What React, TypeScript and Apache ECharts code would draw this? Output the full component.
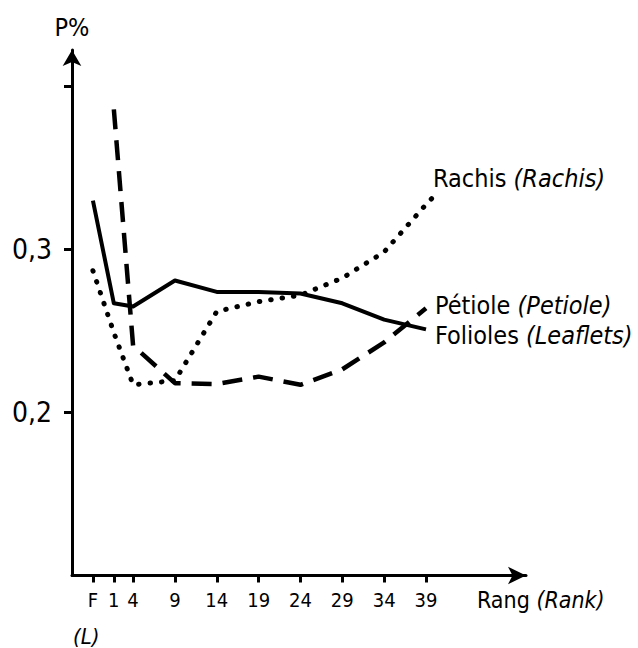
import React, { useEffect, useRef } from "react";
import * as echarts from "echarts";

// Rank tick labels and their plotting positions on the rank axis
const rankLabels = ["F", "1", "4", "9", "14", "19", "24", "29", "34", "39"];
const rankPositions = [-0.8, 1.7, 4, 9, 14, 19, 24, 29, 34, 39];

// P% values per rank
const leaflets = [0.33, 0.267, 0.265, 0.281, 0.274, 0.274, 0.273, 0.267, 0.257, 0.251];
const petiole = [null, 0.386, 0.241, 0.218, 0.2175, 0.222, 0.217, 0.2265, 0.243, 0.264];
const rachis = [0.287, 0.249, 0.217, 0.2196, 0.262, 0.268, 0.272, 0.2825, 0.2985, 0.3276];
const rachisTailRank = 40;
const rachisTailValue = 0.333;

const yTickValues = [0.2, 0.3, 0.4];
const yLabelValues = [0.2, 0.3];

const FONT = "'Liberation Sans Narrow', 'Arial Narrow', 'DejaVu Sans Condensed', 'Roboto Condensed', 'Liberation Sans', sans-serif";

export default function App() {
  const ref = useRef<HTMLDivElement>(null);
  useEffect(() => {
    if (!ref.current) return;
    const chart = echarts.init(ref.current, null, { renderer: "svg" });

    const pairs = (vals: (number | null)[]) =>
      rankPositions
        .map((x, i) => [x, vals[i]])
        .filter((p) => p[1] !== null && p[1] !== undefined);

    const rachisData = pairs(rachis);
    rachisData.push([rachisTailRank, rachisTailValue]);

    const labelText = (text: string, x: number, y: number, size: number) => ({
      type: "text",
      x,
      y,
      silent: true,
      style: {
        text,
        fontFamily: FONT,
        fontSize: size,
        fill: "#000",
        align: "left",
        verticalAlign: "middle",
        rich: {
          i: { fontStyle: "italic", fontFamily: FONT, fontSize: size, fill: "#000" },
        },
      },
    });

    chart.setOption({
      animation: false,
      backgroundColor: "#fff",
      grid: {
        left: 72,
        top: 50,
        width: 454,
        height: 525.5,
        containLabel: false,
        outerBoundsMode: "none",
      },
      xAxis: {
        type: "value",
        min: -3.3,
        max: 50.95,
        splitLine: { show: false },
        axisLine: {
          show: true,
          onZero: false,
          symbol: ["none", "arrow"],
          symbolSize: [13, 18],
          lineStyle: { color: "#000", width: 3 },
        },
        axisTick: {
          show: true,
          customValues: rankPositions,
          length: 7,
          lineStyle: { color: "#000", width: 3 },
        },
        axisLabel: {
          customValues: rankPositions,
          formatter: (v: number) => {
            const i = rankPositions.findIndex((p) => Math.abs(p - v) < 1e-6);
            return i >= 0 ? rankLabels[i] : "";
          },
          margin: 14,
          fontSize: 20,
          fontFamily: FONT,
          color: "#000",
        },
      },
      yAxis: {
        type: "value",
        min: 0.1,
        max: 0.4224,
        name: "P%",
        nameLocation: "end",
        nameGap: 10,
        nameTextStyle: { fontFamily: FONT, fontSize: 25, color: "#000" },
        splitLine: { show: false },
        axisLine: {
          show: true,
          onZero: false,
          symbol: ["none", "arrow"],
          symbolSize: [14, 16],
          lineStyle: { color: "#000", width: 3 },
        },
        axisTick: {
          show: true,
          customValues: yTickValues,
          length: 8,
          lineStyle: { color: "#000", width: 3 },
        },
        axisLabel: {
          customValues: yLabelValues,
          formatter: (v: number) => v.toFixed(1).replace(".", ","),
          margin: 20,
          fontSize: 28,
          fontFamily: FONT,
          color: "#000",
        },
      },
      series: [
        {
          name: "Folioles",
          type: "line",
          data: pairs(leaflets),
          symbol: "none",
          silent: true,
          lineStyle: { color: "#000", width: 4, type: "solid", join: "round" },
        },
        {
          name: "Pétiole",
          type: "line",
          data: pairs(petiole),
          symbol: "none",
          silent: true,
          lineStyle: { color: "#000", width: 4.5, type: [20, 11], cap: "butt" },
        },
        {
          name: "Rachis",
          type: "line",
          data: rachisData,
          symbol: "none",
          silent: true,
          lineStyle: { color: "#000", width: 5, type: [0.5, 11], cap: "round" },
        },
      ],
      graphic: [
        labelText("Rachis {i|(Rachis)}", 433, 178, 25),
        labelText("Pétiole {i|(Petiole)}", 435, 305, 25),
        labelText("Folioles {i|(Leaflets)}", 435, 335, 25),
        labelText("Rang {i|(Rank)}", 477, 600, 23),
        labelText("{i|(L)}", 73, 636, 22),
      ],
    });
    return () => chart.dispose();
  }, []);
  return (
    <div
      ref={ref}
      style={{ position: "fixed", left: 0, top: 0, width: 638, height: 648, background: "#fff" }}
    />
  );
}
